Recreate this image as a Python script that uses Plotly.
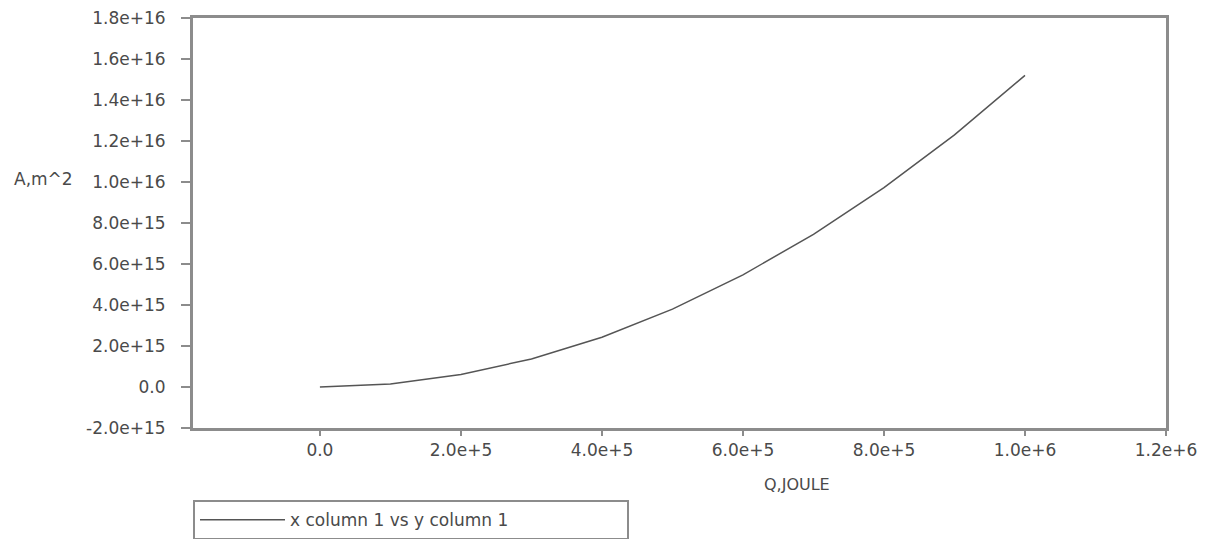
import plotly.graph_objects as go

# Data (Q in joule, A in m^2)
q_joule = [0, 1e5, 2e5, 3e5, 4e5, 5e5, 6e5, 7e5, 8e5, 9e5, 1e6]
a_m2 = [0.0, 1.5e14, 6.1e14, 1.37e15, 2.43e15, 3.8e15, 5.47e15, 7.45e15, 9.73e15, 1.23e16, 1.52e16]

x_tickvals = [0, 2e5, 4e5, 6e5, 8e5, 1e6, 1.2e6]
x_ticktext = ["0.0", "2.0e+5", "4.0e+5", "6.0e+5", "8.0e+5", "1.0e+6", "1.2e+6"]
y_tickvals = [-2e15, 0, 2e15, 4e15, 6e15, 8e15, 1e16, 1.2e16, 1.4e16, 1.6e16, 1.8e16]
y_ticktext = ["-2.0e+15", "0.0", "2.0e+15", "4.0e+15", "6.0e+15", "8.0e+15",
              "1.0e+16", "1.2e+16", "1.4e+16", "1.6e+16", "1.8e+16"]

series_name = "x column 1 vs y column 1"
x_title = "Q,JOULE"
y_title = "A,m^2"

FONT = "DejaVu Sans"
TXT = "#4a4a4a"
AXC = "#8c8c8c"

fig = go.Figure()
fig.add_trace(go.Scatter(
    x=q_joule, y=a_m2, mode="lines", name=series_name,
    line=dict(color="#555555", width=1.5),
    showlegend=True,
))

fig.update_layout(
    width=1211, height=531,
    margin=dict(l=185, r=53, t=10, b=111, autoexpand=False),
    paper_bgcolor="white", plot_bgcolor="white",
    font=dict(family=FONT, size=17, color=TXT),
    showlegend=True,
    legend=dict(
        x=0, xref="paper", xanchor="left",
        y=-0.176, yanchor="top",
        orientation="h",
        bordercolor=AXC, borderwidth=2,
        bgcolor="white",
        font=dict(family=FONT, size=17, color=TXT),
        entrywidth=332,
        itemwidth=85,
    ),
)

fig.update_xaxes(
    range=[-1.8e5, 1.2e6],
    tickvals=x_tickvals, ticktext=x_ticktext,
    ticks="outside", ticklen=5, tickwidth=2, tickcolor=AXC,
    showline=True, linecolor=AXC, linewidth=2.5, mirror=True,
    showgrid=False, zeroline=False, automargin=False,
    ticklabeloverflow="allow",
    tickfont=dict(family=FONT, size=17, color=TXT),
)
fig.update_yaxes(
    range=[-2e15, 1.8e16],
    tickvals=y_tickvals, ticktext=y_ticktext,
    ticks="outside", ticklen=9, tickwidth=2, tickcolor=AXC,
    showline=True, linecolor=AXC, linewidth=3, mirror=True,
    showgrid=False, zeroline=False, automargin=False,
    ticklabeloverflow="allow",
    tickfont=dict(family=FONT, size=17, color=TXT),
    ticklabelstandoff=12,
)

fig.add_annotation(
    text=x_title, xref="x", yref="paper", x=6.77e5, y=-0.139,
    xanchor="center", yanchor="middle", showarrow=False,
    font=dict(family=FONT, size=16, color=TXT),
)
fig.add_annotation(
    text=y_title, xref="paper", yref="y", x=-0.186, y=1.0e16,
    xanchor="left", yanchor="middle", yshift=3, showarrow=False,
    font=dict(family=FONT, size=17, color=TXT),
)

fig.write_html("out.html")
